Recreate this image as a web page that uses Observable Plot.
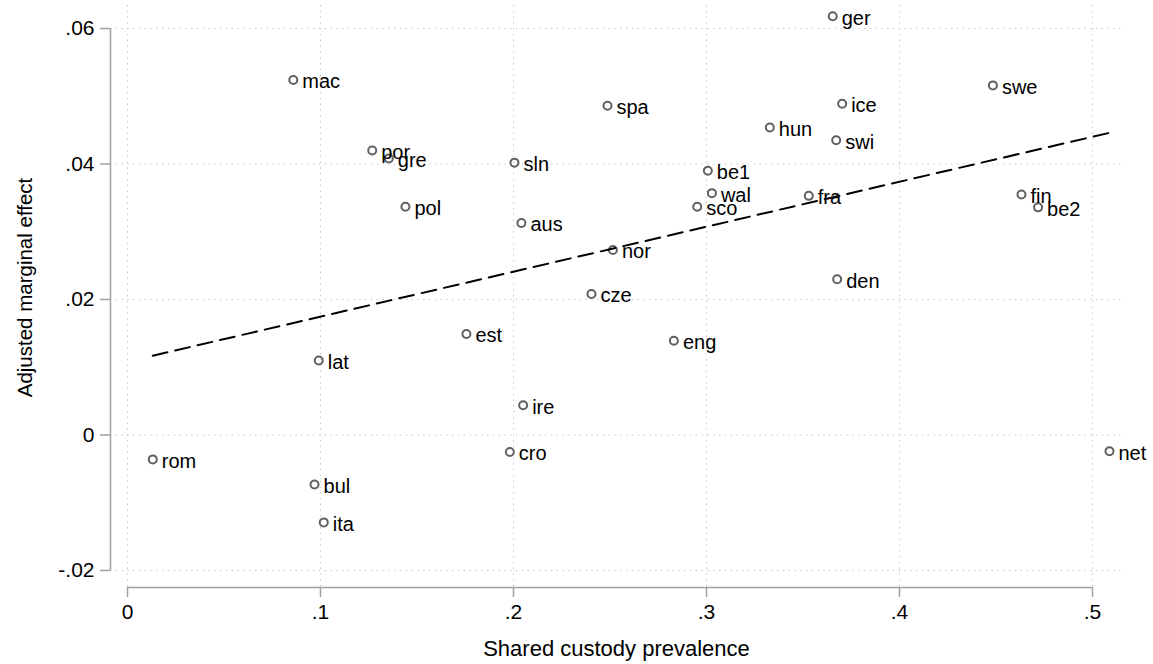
<!DOCTYPE html>
<html>
<head>
<meta charset="utf-8">
<script src="https://cdn.jsdelivr.net/npm/d3@7"></script>
<script src="https://cdn.jsdelivr.net/npm/@observablehq/plot@0.6"></script>
<style>
  html, body { margin: 0; padding: 0; background: #fff; }
  #chart svg { display: block; background: #fff; }
  [aria-label$="tick label"] { fill: #000; }
</style>
</head>
<body>
<div id="chart"></div>
<script>
// Country codes
const countries = ["ger","mac","swe","spa","ice","hun","swi","por","gre","sln",
  "be1","wal","fra","fin","be2","pol","sco","aus","nor","den",
  "cze","est","eng","lat","ire","cro","net","rom","bul","ita"];
// Shared custody prevalence (x)
const prevalence = [0.3654,0.0859,0.4484,0.2487,0.3703,0.3328,0.3672,0.1268,0.1354,0.2005,
  0.3007,0.3028,0.3530,0.4632,0.4718,0.1440,0.2952,0.2041,0.2515,0.3677,
  0.2404,0.1756,0.2831,0.0991,0.2050,0.1981,0.5088,0.0131,0.0969,0.1017];
// Adjusted marginal effect (y)
const effect = [0.0618,0.0524,0.0516,0.0486,0.0489,0.0454,0.0435,0.0420,0.0408,0.0402,
  0.0390,0.0357,0.0353,0.0355,0.0336,0.0337,0.0337,0.0313,0.0273,0.0230,
  0.0208,0.0149,0.0139,0.0110,0.0044,-0.0025,-0.0024,-0.0036,-0.0073,-0.0129];
// Fitted line endpoints (linear fit)
const fitX = [0.0131, 0.5088];
const fitY = [0.0117, 0.0446];
// Ticks
const xTicks = [0, 0.1, 0.2, 0.3, 0.4, 0.5];
const yTicks = [-0.02, 0, 0.02, 0.04, 0.06];

const data = countries.map((c, i) => ({name: c, x: prevalence[i], y: effect[i]}));
const fit = fitX.map((x, i) => ({x, y: fitY[i]}));
const fmt = d => d === 0 ? "0" : String(+d.toFixed(4)).replace(/^(-?)0\./, "$1.");

const axisColor = "#a0a0a0";
const gridStyle = {stroke: "#c0c0c0", strokeOpacity: 1, strokeWidth: 1, strokeDasharray: "1.3,4.5"};

const chart = Plot.plot({
  width: 1153,
  height: 664,
  marginLeft: 110,
  marginRight: 31,
  marginTop: 5,
  marginBottom: 77,
  style: {fontFamily: "'Liberation Sans', Arial, Helvetica, sans-serif", background: "#fff", color: "#000"},
  x: {domain: [0, 0.5], insetLeft: 17, insetRight: 30},
  y: {domain: [-0.02, 0.06], insetTop: 23, insetBottom: 17},
  marks: [
    Plot.gridX(xTicks, gridStyle),
    Plot.gridY(yTicks, gridStyle),
    Plot.axisY(yTicks, {anchor: "left", tickSize: 10, tickPadding: 6, tickFormat: fmt,
      stroke: axisColor, fill: "#000", strokeWidth: 1.5, fontSize: 21, label: null}),
    Plot.axisX(xTicks, {anchor: "bottom", tickSize: 10, tickPadding: 7, tickFormat: fmt,
      stroke: axisColor, fill: "#000", strokeWidth: 1.5, fontSize: 21, label: null}),
    Plot.ruleX([xTicks[0]], {y1: yTicks[0], y2: yTicks[yTicks.length - 1], dx: -17, stroke: axisColor, strokeWidth: 1.5}),
    Plot.ruleY([yTicks[0]], {x1: xTicks[0], x2: xTicks[xTicks.length - 1], dy: 17, stroke: axisColor, strokeWidth: 1.5}),
    Plot.text(["Shared custody prevalence"], {frameAnchor: "bottom", textAnchor: "middle", lineAnchor: "middle", dy: 61, fontSize: 22, fill: "#000"}),
    Plot.text(["Adjusted marginal effect"], {frameAnchor: "left", textAnchor: "middle", lineAnchor: "middle", dx: -85, dy: -9, rotate: -90, fontSize: 20.5, fill: "#000"}),
    Plot.dot(data, {x: "x", y: "y", r: 4, stroke: "#606060", strokeWidth: 2, fill: "none"}),
    Plot.text(data, {x: "x", y: "y", text: "name", textAnchor: "start", dx: 9, dy: 2, fontSize: 20, fill: "#000"}),
    Plot.line(fit, {x: "x", y: "y", stroke: "#000", strokeWidth: 2, strokeDasharray: "15,8"})
  ]
});
document.getElementById("chart").appendChild(chart);
</script>
</body>
</html>
